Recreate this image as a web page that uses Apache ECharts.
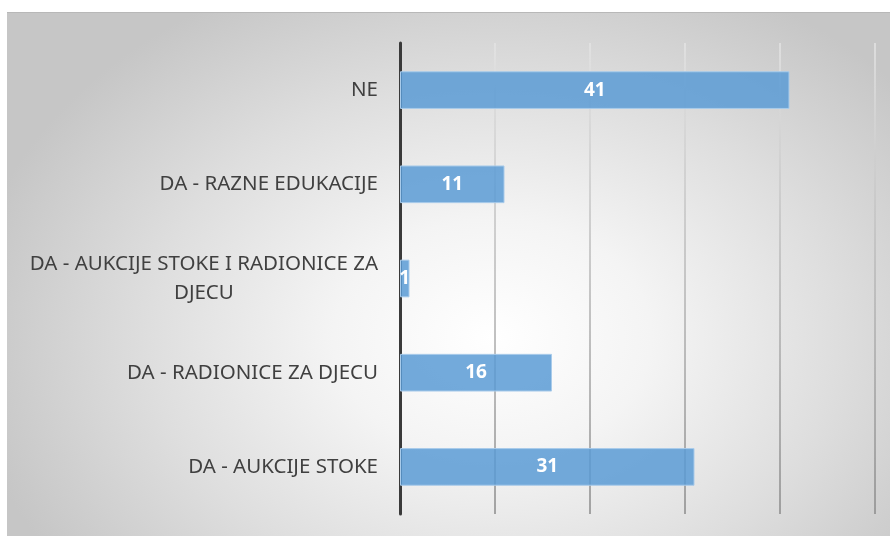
<!DOCTYPE html>
<html lang="hr">
<head>
    <meta charset="UTF-8">
    <title>Chart</title>
    <style>
        *{
            margin:0;
            padding:0;
        }
        body{
            background:#fff;
            width:890px;
            height:537px;
            overflow:hidden;
        }
        .box{
            position:absolute;
            left:7px;
            top:12px;
            width:883px;
            height:524px;
            border-top:1px solid #b8b8b8;
            box-sizing:border-box;
            background:radial-gradient(ellipse 60% 75% at 55% 62%, #ffffff 0%, #f4f4f4 30%, #dedede 65%, #c6c6c6 100%);
        }
    </style>
    <script src="https://cdn.jsdelivr.net/npm/echarts@6/dist/echarts.min.js"></script>
</head>
<body>
    <div class="box" id="box"></div>
    <script>
        // kategorije odozgo prema dolje
        var categories = ['NE', 'DA - RAZNE EDUKACIJE', 'DA - AUKCIJE STOKE I RADIONICE ZA\nDJECU', 'DA - RADIONICE ZA DJECU', 'DA - AUKCIJE STOKE'];
        var values = [41, 11, 1, 16, 31];

        var myChart = echarts.init(document.getElementById('box'));
        var option = {
            backgroundColor: 'transparent',
            animation: false,
            grid: {
                left: 393,
                right: 15,
                top: 30,
                bottom: 22,
                containLabel: false
            },
            xAxis: {
                type: 'value',
                min: 0,
                max: 50,
                interval: 10,
                axisLabel: { show: false },
                axisLine: { show: false },
                axisTick: { show: false },
                splitLine: {
                    show: true,
                    lineStyle: {
                        width: 1.5,
                        color: {
                            type: 'linear', x: 0, y: 30, x2: 0, y2: 502, global: true,
                            colorStops: [
                                { offset: 0, color: '#e4e4e4' },
                                { offset: 1, color: '#8a8a8a' }
                            ]
                        }
                    }
                }
            },
            yAxis: {
                type: 'category',
                inverse: true,
                data: categories,
                axisTick: { show: false },
                axisLine: { show: true, lineStyle: { color: '#3a3a3a', width: 3 } },
                axisLabel: {
                    margin: 22,
                    formatter: function (v) {
                        return v.split('\n').map(function (s) { return '{c|' + s + '}'; }).join('\n');
                    },
                    rich: {
                        c: {
                            fontFamily: 'Noto Sans',
                            fontSize: 20.5,
                            color: '#404040',
                            lineHeight: 29,
                            align: 'center'
                        }
                    }
                }
            },
            series: [{
                type: 'bar',
                data: values,
                barCategoryGap: '60%',
                itemStyle: {
                    color: 'rgba(91,155,213,0.85)',
                    borderColor: '#a9cbea',
                    borderWidth: 1
                },
                label: {
                    show: true,
                    position: 'inside',
                    color: '#ffffff',
                    fontFamily: 'Noto Sans',
                    fontWeight: 'bold',
                    fontSize: 19
                }
            }]
        };
        myChart.setOption(option);
    </script>
</body>
</html>
